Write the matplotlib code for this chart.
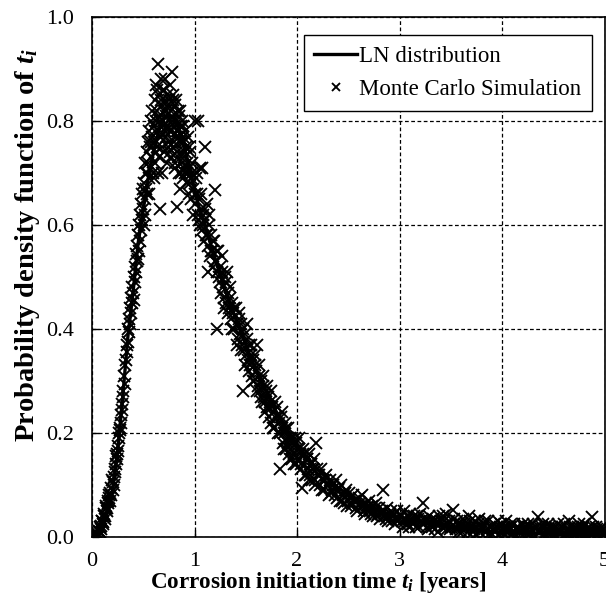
import matplotlib.pyplot as plt

plt.rcParams['font.family'] = ['Liberation Serif', 'DejaVu Serif']
plt.rcParams['mathtext.fontset'] = 'custom'
plt.rcParams['mathtext.rm'] = 'Liberation Serif:bold'
plt.rcParams['mathtext.it'] = 'Liberation Serif:bold:italic'

# LN distribution curve
ln_t = [0.0, 0.05, 0.1, 0.15, 0.2, 0.25, 0.3, 0.35, 0.4, 0.45, 0.5, 0.55, 0.6, 0.65,
        0.7, 0.75, 0.8, 0.85, 0.9, 0.95, 1.0, 1.05, 1.1, 1.2, 1.3, 1.4, 1.5, 1.6,
        1.7, 1.8, 1.9, 2.0, 2.2, 2.4, 2.6, 2.8, 3.0, 3.25, 3.5, 3.75, 4.0, 4.5, 5.0]
ln_f = [0.0, 0.002, 0.02, 0.05, 0.09, 0.165, 0.27, 0.385, 0.47, 0.565, 0.63, 0.69, 0.74, 0.78,
        0.805, 0.81, 0.805, 0.785, 0.75, 0.71, 0.67, 0.63, 0.60, 0.535, 0.475, 0.42, 0.37, 0.32,
        0.28, 0.24, 0.205, 0.175, 0.13, 0.095, 0.07, 0.05, 0.038, 0.027, 0.019, 0.013, 0.009, 0.005, 0.003]

# Monte Carlo points, rising part
mc_t_rise = [0.0, 0.01, 0.02, 0.03, 0.04, 0.05, 0.06, 0.07, 0.08, 0.09, 0.10, 0.11, 0.12, 0.13, 0.14,
             0.15, 0.16, 0.17, 0.18, 0.19, 0.20, 0.21, 0.22, 0.23, 0.24, 0.25, 0.26, 0.27, 0.28, 0.29, 0.30,
             0.005, 0.015, 0.025, 0.035, 0.045, 0.055, 0.065, 0.075, 0.085, 0.095, 0.105, 0.115, 0.125,
             0.135, 0.145, 0.155, 0.165, 0.175, 0.185, 0.195, 0.205, 0.215, 0.225, 0.235, 0.245, 0.255,
             0.265, 0.275, 0.285, 0.295,
             0.305, 0.315, 0.32, 0.325, 0.335, 0.34, 0.345, 0.35, 0.355, 0.36, 0.365, 0.37, 0.375, 0.38,
             0.385, 0.39, 0.395, 0.40, 0.405, 0.41, 0.415, 0.42, 0.425, 0.43, 0.435, 0.44, 0.445, 0.45,
             0.455, 0.46, 0.465, 0.47, 0.475, 0.48, 0.485, 0.49, 0.495, 0.50, 0.505, 0.51, 0.515, 0.52,
             0.525, 0.53, 0.535, 0.54, 0.545, 0.55, 0.555, 0.56, 0.565, 0.57, 0.575, 0.58, 0.585, 0.59,
             0.595, 0.60]
mc_f_rise = [0.0, 0.005, 0.0, 0.01, 0.0, 0.008, 0.004, 0.012, 0.02, 0.015, 0.03, 0.025, 0.045, 0.04, 0.06,
             0.055, 0.07, 0.075, 0.085, 0.08, 0.105, 0.10, 0.125, 0.14, 0.15, 0.175, 0.19, 0.205, 0.22, 0.245, 0.27,
             0.0, 0.003, 0.0, 0.006, 0.002, 0.0, 0.01, 0.01, 0.022, 0.03, 0.028, 0.04, 0.035,
             0.055, 0.05, 0.065, 0.08, 0.07, 0.095, 0.11, 0.09, 0.115, 0.13, 0.155, 0.16, 0.165,
             0.2, 0.21, 0.235, 0.255,
             0.28, 0.31, 0.295, 0.33, 0.34, 0.37, 0.355, 0.40, 0.375, 0.42, 0.395, 0.44, 0.41, 0.46,
             0.43, 0.48, 0.45, 0.47, 0.50, 0.455, 0.52, 0.49, 0.51, 0.545, 0.53, 0.56, 0.535, 0.58,
             0.55, 0.60, 0.57, 0.62, 0.59, 0.64, 0.61, 0.66, 0.63, 0.67, 0.60, 0.68, 0.65, 0.72,
             0.67, 0.70, 0.74, 0.66, 0.72, 0.76, 0.69, 0.78, 0.71, 0.75, 0.80, 0.73, 0.77, 0.82,
             0.70, 0.79]

# Monte Carlo points, peak
mc_t_peak = [0.605, 0.61, 0.615, 0.62, 0.625, 0.63, 0.635, 0.64, 0.645, 0.65, 0.655, 0.66, 0.665, 0.67,
             0.675, 0.68, 0.685, 0.69, 0.695, 0.70, 0.705, 0.71, 0.715, 0.72, 0.725, 0.73, 0.735, 0.74,
             0.745, 0.75, 0.755, 0.76, 0.765, 0.77, 0.775, 0.78, 0.785, 0.79, 0.795, 0.80, 0.805, 0.81,
             0.815, 0.82, 0.825, 0.83, 0.835, 0.84, 0.845, 0.85, 0.855, 0.86, 0.865, 0.87, 0.875, 0.88,
             0.885, 0.89, 0.895, 0.90, 0.905, 0.91, 0.92, 0.925, 0.93, 0.94, 0.945, 0.95, 0.96, 0.965,
             0.97, 0.98, 0.985, 0.99, 1.0, 1.005, 1.01, 1.02, 1.03, 1.035, 1.04, 1.05, 1.055, 1.06, 1.07,
             1.075, 1.08, 1.09, 1.10, 1.105, 1.11, 1.12, 1.13, 1.14, 1.15, 1.16, 1.17, 1.18, 1.19, 1.20,
             1.21, 1.22, 1.23, 1.13, 1.22,
             0.52, 0.54, 0.56, 0.58, 0.60, 0.61, 0.62, 0.63, 0.64, 0.65, 0.66, 0.67, 0.68, 0.69, 0.70,
             0.71, 0.72, 0.73, 0.74, 0.75, 0.76, 0.77, 0.78, 0.79, 0.80, 0.81, 0.82, 0.83, 0.84, 0.85,
             0.86, 0.87, 0.88, 0.89, 0.90, 0.91, 0.93, 0.95, 0.96, 0.98, 1.00, 1.02, 1.04, 1.06, 1.08,
             1.10, 1.12, 1.14, 1.16, 1.18, 1.20, 1.22]
mc_f_peak = [0.76, 0.84, 0.72, 0.80, 0.87, 0.75, 0.82, 0.78, 0.91, 0.85, 0.73, 0.63, 0.80, 0.88,
             0.77, 0.83, 0.70, 0.86, 0.79, 0.82, 0.74, 0.84, 0.88, 0.77, 0.81, 0.72, 0.85, 0.79,
             0.83, 0.76, 0.80, 0.87, 0.74, 0.82, 0.78, 0.895, 0.81, 0.75, 0.84, 0.79, 0.71, 0.83,
             0.77, 0.80, 0.74, 0.635, 0.82, 0.78, 0.70, 0.81, 0.76, 0.67, 0.79, 0.74, 0.80, 0.72,
             0.77, 0.69, 0.76, 0.73, 0.78, 0.70, 0.75, 0.68, 0.72, 0.77, 0.66, 0.71, 0.74, 0.69,
             0.65, 0.70, 0.62, 0.67, 0.80, 0.64, 0.69, 0.66, 0.80, 0.62, 0.65, 0.71, 0.60, 0.63, 0.71,
             0.59, 0.62, 0.57, 0.75, 0.61, 0.58, 0.64, 0.56, 0.60, 0.54, 0.58, 0.55, 0.52, 0.57, 0.667,
             0.53, 0.51, 0.55, 0.51, 0.40,
             0.62, 0.70, 0.66, 0.76, 0.69, 0.78, 0.74, 0.86, 0.70, 0.81, 0.77, 0.84, 0.75, 0.80, 0.86,
             0.78, 0.82, 0.79, 0.75, 0.84, 0.78, 0.73, 0.80, 0.85, 0.76, 0.72, 0.84, 0.78, 0.73, 0.77,
             0.82, 0.70, 0.76, 0.79, 0.71, 0.74, 0.70, 0.75, 0.68, 0.72, 0.66, 0.70, 0.61, 0.66, 0.60,
             0.63, 0.58, 0.62, 0.55, 0.57, 0.53, 0.55]

# Monte Carlo points, falling part
mc_t_fall = [1.24, 1.25, 1.26, 1.27, 1.28, 1.29, 1.30, 1.31, 1.32, 1.33, 1.34, 1.35, 1.36, 1.37, 1.38,
             1.39, 1.40, 1.41, 1.42, 1.43, 1.44, 1.45, 1.46, 1.47, 1.48, 1.49, 1.50, 1.51, 1.52, 1.53,
             1.54, 1.55, 1.56, 1.57, 1.58, 1.59, 1.60, 1.61, 1.62, 1.63, 1.64, 1.65, 1.66, 1.67, 1.68,
             1.69, 1.70, 1.71, 1.72, 1.73, 1.74, 1.75, 1.76, 1.77, 1.78, 1.79, 1.80, 1.81, 1.82, 1.83,
             1.84, 1.85, 1.86, 1.87, 1.88, 1.89, 1.90, 1.91, 1.92, 1.93, 1.94, 1.95, 1.96, 1.97, 1.98,
             1.99, 2.00,
             1.25, 1.27, 1.29, 1.31, 1.33, 1.35, 1.37, 1.39, 1.41, 1.43, 1.45, 1.47, 1.49, 1.51, 1.53,
             1.55, 1.57, 1.59, 1.61, 1.63, 1.65, 1.67, 1.69, 1.71, 1.73, 1.75, 1.77, 1.79, 1.81, 1.83,
             1.85, 1.87, 1.89, 1.91, 1.93, 1.95, 1.97, 1.99]
mc_f_fall = [0.50, 0.52, 0.47, 0.51, 0.48, 0.46, 0.50, 0.45, 0.51, 0.47, 0.44, 0.46, 0.42, 0.45, 0.43,
             0.40, 0.44, 0.41, 0.38, 0.42, 0.39, 0.41, 0.37, 0.28, 0.36, 0.39, 0.35, 0.41, 0.34, 0.37,
             0.33, 0.35, 0.31, 0.34, 0.30, 0.33, 0.32, 0.37, 0.29, 0.31, 0.28, 0.30, 0.26, 0.29, 0.27,
             0.24, 0.28, 0.25, 0.27, 0.23, 0.26, 0.22, 0.25, 0.24, 0.21, 0.23, 0.25, 0.20, 0.22, 0.13,
             0.23, 0.21, 0.18, 0.20, 0.22, 0.17, 0.19, 0.21, 0.16, 0.19, 0.17, 0.15, 0.18, 0.16, 0.19,
             0.14, 0.17,
             0.49, 0.54, 0.44, 0.49, 0.43, 0.48, 0.40, 0.44, 0.37, 0.43, 0.36, 0.40, 0.33, 0.38, 0.32,
             0.37, 0.30, 0.35, 0.28, 0.33, 0.27, 0.31, 0.26, 0.29, 0.25, 0.28, 0.21, 0.26, 0.23, 0.20,
             0.24, 0.17, 0.21, 0.18, 0.15, 0.19, 0.14, 0.18]

# Monte Carlo points, tail
mc_t_tail = [2.01, 2.02, 2.03, 2.04, 2.05, 2.06, 2.07, 2.08, 2.09, 2.10, 2.11, 2.12, 2.13, 2.14, 2.15,
             2.16, 2.17, 2.18, 2.19, 2.20, 2.22, 2.23, 2.25, 2.26, 2.28, 2.29, 2.31, 2.32, 2.34, 2.35,
             2.37, 2.38, 2.40, 2.42, 2.43, 2.45, 2.46, 2.48, 2.50, 2.51, 2.53, 2.55, 2.56, 2.58, 2.60,
             2.62, 2.63, 2.65, 2.67, 2.68, 2.70, 2.72, 2.73, 2.75, 2.77, 2.78, 2.80, 2.82, 2.84, 2.85,
             2.87, 2.88, 2.90, 2.92, 2.93, 2.95, 2.97, 2.98, 3.00,
             3.02, 3.04, 3.06, 3.08, 3.10, 3.12, 3.14, 3.16, 3.18, 3.20, 3.23, 3.25, 3.27, 3.29, 3.31,
             3.33, 3.35, 3.37, 3.39, 3.41, 3.43, 3.45, 3.47, 3.49, 3.52, 3.54, 3.56, 3.58, 3.60, 3.62,
             3.64, 3.66, 3.68, 3.70, 3.72, 3.74, 3.76, 3.78, 3.80, 3.82, 3.84, 3.86, 3.88, 3.90, 3.92,
             3.94, 3.96, 3.98, 4.00, 4.02, 4.04, 4.06, 4.08, 4.10, 4.12, 4.14, 4.16, 4.18, 4.20, 4.22,
             4.24, 4.26, 4.28, 4.30, 4.32, 4.35, 4.37, 4.39, 4.41, 4.43, 4.45, 4.47, 4.49, 4.51, 4.53,
             4.55, 4.57, 4.59, 4.61, 4.63, 4.65, 4.67, 4.69, 4.71, 4.73, 4.75, 4.77, 4.79, 4.81, 4.83,
             4.85, 4.88, 4.90, 4.92, 4.94, 4.96, 4.98, 5.00,
             2.015, 2.035, 2.055, 2.075, 2.095, 2.115, 2.135, 2.155, 2.175, 2.195, 2.21, 2.24, 2.27, 2.30,
             2.33, 2.36, 2.39, 2.41, 2.44, 2.47, 2.49, 2.52, 2.54, 2.57, 2.59, 2.61, 2.64, 2.66, 2.69,
             2.71, 2.74, 2.76, 2.79, 2.81, 2.83, 2.86, 2.89, 2.91, 2.94, 2.96, 2.99,
             3.01, 3.03, 3.05, 3.07, 3.09, 3.11, 3.13, 3.15, 3.17, 3.19, 3.21, 3.24, 3.26, 3.28, 3.30,
             3.32, 3.34, 3.36, 3.38, 3.40, 3.42, 3.44, 3.46, 3.48, 3.50, 3.53, 3.55, 3.57, 3.59, 3.61,
             3.63, 3.65, 3.67, 3.69, 3.71, 3.73, 3.75, 3.77, 3.79, 3.81, 3.83, 3.85, 3.87, 3.89, 3.91,
             3.93, 3.95, 3.97, 3.99, 4.01, 4.03, 4.05, 4.07, 4.09, 4.11, 4.13, 4.15, 4.17, 4.19, 4.21,
             4.23, 4.25, 4.27, 4.29, 4.31, 4.33, 4.36, 4.38, 4.40, 4.42, 4.44, 4.46, 4.48, 4.50, 4.52,
             4.54, 4.56, 4.58, 4.60, 4.62, 4.64, 4.66, 4.68, 4.70, 4.72, 4.74, 4.76, 4.78, 4.80, 4.82,
             4.84, 4.86, 4.87, 4.89, 4.91, 4.93, 4.95, 4.97, 4.99]
mc_f_tail = [0.15, 0.19, 0.16, 0.13, 0.094, 0.17, 0.14, 0.16, 0.12, 0.15, 0.13, 0.16, 0.12, 0.14, 0.11,
             0.13, 0.15, 0.11, 0.18, 0.12, 0.10, 0.13, 0.11, 0.09, 0.12, 0.10, 0.08, 0.11, 0.09, 0.10,
             0.08, 0.11, 0.09, 0.07, 0.10, 0.08, 0.065, 0.09, 0.07, 0.085, 0.06, 0.08, 0.07, 0.055, 0.075,
             0.06, 0.08, 0.05, 0.065, 0.055, 0.07, 0.045, 0.06, 0.05, 0.065, 0.04, 0.055, 0.045, 0.09, 0.05,
             0.035, 0.055, 0.04, 0.05, 0.03, 0.045, 0.035, 0.05, 0.04,
             0.03, 0.05, 0.035, 0.025, 0.045, 0.03, 0.04, 0.02, 0.035, 0.045, 0.065, 0.03, 0.02, 0.04, 0.025,
             0.035, 0.015, 0.03, 0.04, 0.02, 0.03, 0.045, 0.025, 0.015, 0.052, 0.02, 0.03, 0.01, 0.025, 0.035,
             0.015, 0.025, 0.04, 0.02, 0.01, 0.03, 0.02, 0.035, 0.015, 0.025, 0.01, 0.03, 0.02, 0.005, 0.025,
             0.015, 0.03, 0.02, 0.01, 0.02, 0.03, 0.01, 0.02, 0.005, 0.025, 0.015, 0.02, 0.01, 0.025, 0.015,
             0.005, 0.02, 0.01, 0.025, 0.015, 0.038, 0.01, 0.02, 0.005, 0.015, 0.025, 0.01, 0.02, 0.005, 0.015,
             0.025, 0.01, 0.02, 0.005, 0.015, 0.03, 0.01, 0.02, 0.005, 0.015, 0.025, 0.01, 0.02, 0.005, 0.015,
             0.02, 0.038, 0.01, 0.02, 0.005, 0.015, 0.02, 0.01,
             0.17, 0.14, 0.16, 0.12, 0.15, 0.11, 0.14, 0.13, 0.10, 0.13, 0.12, 0.09, 0.11, 0.10,
             0.085, 0.095, 0.075, 0.095, 0.07, 0.085, 0.06, 0.075, 0.065, 0.07, 0.05, 0.065, 0.06, 0.045, 0.06,
             0.05, 0.04, 0.055, 0.045, 0.035, 0.05, 0.04, 0.03, 0.045, 0.04, 0.025, 0.035,
             0.04, 0.02, 0.03, 0.04, 0.02, 0.035, 0.025, 0.03, 0.04, 0.02, 0.03, 0.025, 0.035, 0.015, 0.03,
             0.02, 0.03, 0.025, 0.01, 0.03, 0.04, 0.02, 0.015, 0.03, 0.02, 0.035, 0.015, 0.025, 0.02, 0.01,
             0.025, 0.02, 0.01, 0.03, 0.02, 0.015, 0.005, 0.025, 0.01, 0.02, 0.03, 0.015, 0.005, 0.02, 0.015,
             0.01, 0.02, 0.005, 0.025, 0.015, 0.005, 0.02, 0.015, 0.025, 0.01, 0.0, 0.02, 0.015, 0.005, 0.02,
             0.01, 0.025, 0.005, 0.015, 0.0, 0.02, 0.01, 0.015, 0.025, 0.0, 0.01, 0.02, 0.005, 0.015, 0.02,
             0.0, 0.015, 0.01, 0.025, 0.005, 0.01, 0.02, 0.0, 0.015, 0.01, 0.02, 0.005, 0.015, 0.025, 0.0,
             0.01, 0.015, 0.005, 0.02, 0.01, 0.015, 0.0, 0.01, 0.015]

mc_t = mc_t_rise + mc_t_peak + mc_t_fall + mc_t_tail
mc_f = mc_f_rise + mc_f_peak + mc_f_fall + mc_f_tail

x_ticks = [0, 1, 2, 3, 4, 5]
y_ticks = [0.0, 0.2, 0.4, 0.6, 0.8, 1.0]

fig = plt.figure(figsize=(6.06, 6.05), dpi=100)
ax = fig.add_axes([92 / 606, 1 - 537 / 605, 512.5 / 606, 520 / 605])

ax.plot(mc_t, mc_f, 'x', color='black', markersize=8, markeredgewidth=1.35,
        label='Monte Carlo Simulation', zorder=3)
ax.plot(ln_t, ln_f, '-', color='black', linewidth=2.4, label='LN distribution', zorder=4)

ax.set_xlim(0, 5)
ax.set_ylim(0, 1.0)
ax.set_xticks(x_ticks)
ax.set_yticks(y_ticks)
ax.set_yticklabels(['%.1f' % v for v in y_ticks])
ax.tick_params(direction='in', length=5, width=1, labelsize=16)
ax.tick_params(axis='x', pad=11)
ax.tick_params(axis='y', pad=13)
ax.grid(True, color='black', linestyle=(0, (3, 2)), linewidth=0.9)
ax.set_axisbelow(True)
for sp in ax.spines.values():
    sp.set_linewidth(1.2)

ax.set_xlabel(r'Corrosion initiation time $t_i$ [years]', fontsize=16.7, fontweight='bold')
ax.set_ylabel(r'Probability density function of $t_i$', fontsize=20.5, fontweight='bold')
ax.xaxis.set_label_coords(0.442, -0.064)
ax.yaxis.set_label_coords(-0.097, 0.5615)

handles, labels = ax.get_legend_handles_labels()
leg = ax.legend(handles[::-1], labels[::-1], loc='upper left', fontsize=16.5, frameon=True,
                fancybox=False, edgecolor='black', framealpha=1, handlelength=1.85,
                handletextpad=0.12, borderpad=0.45, labelspacing=0.55, markerscale=0.65,
                borderaxespad=0, bbox_to_anchor=(0.4137, 0.965))
leg.get_frame().set_linewidth(1.0)

fig.savefig('out.png', dpi=100)
